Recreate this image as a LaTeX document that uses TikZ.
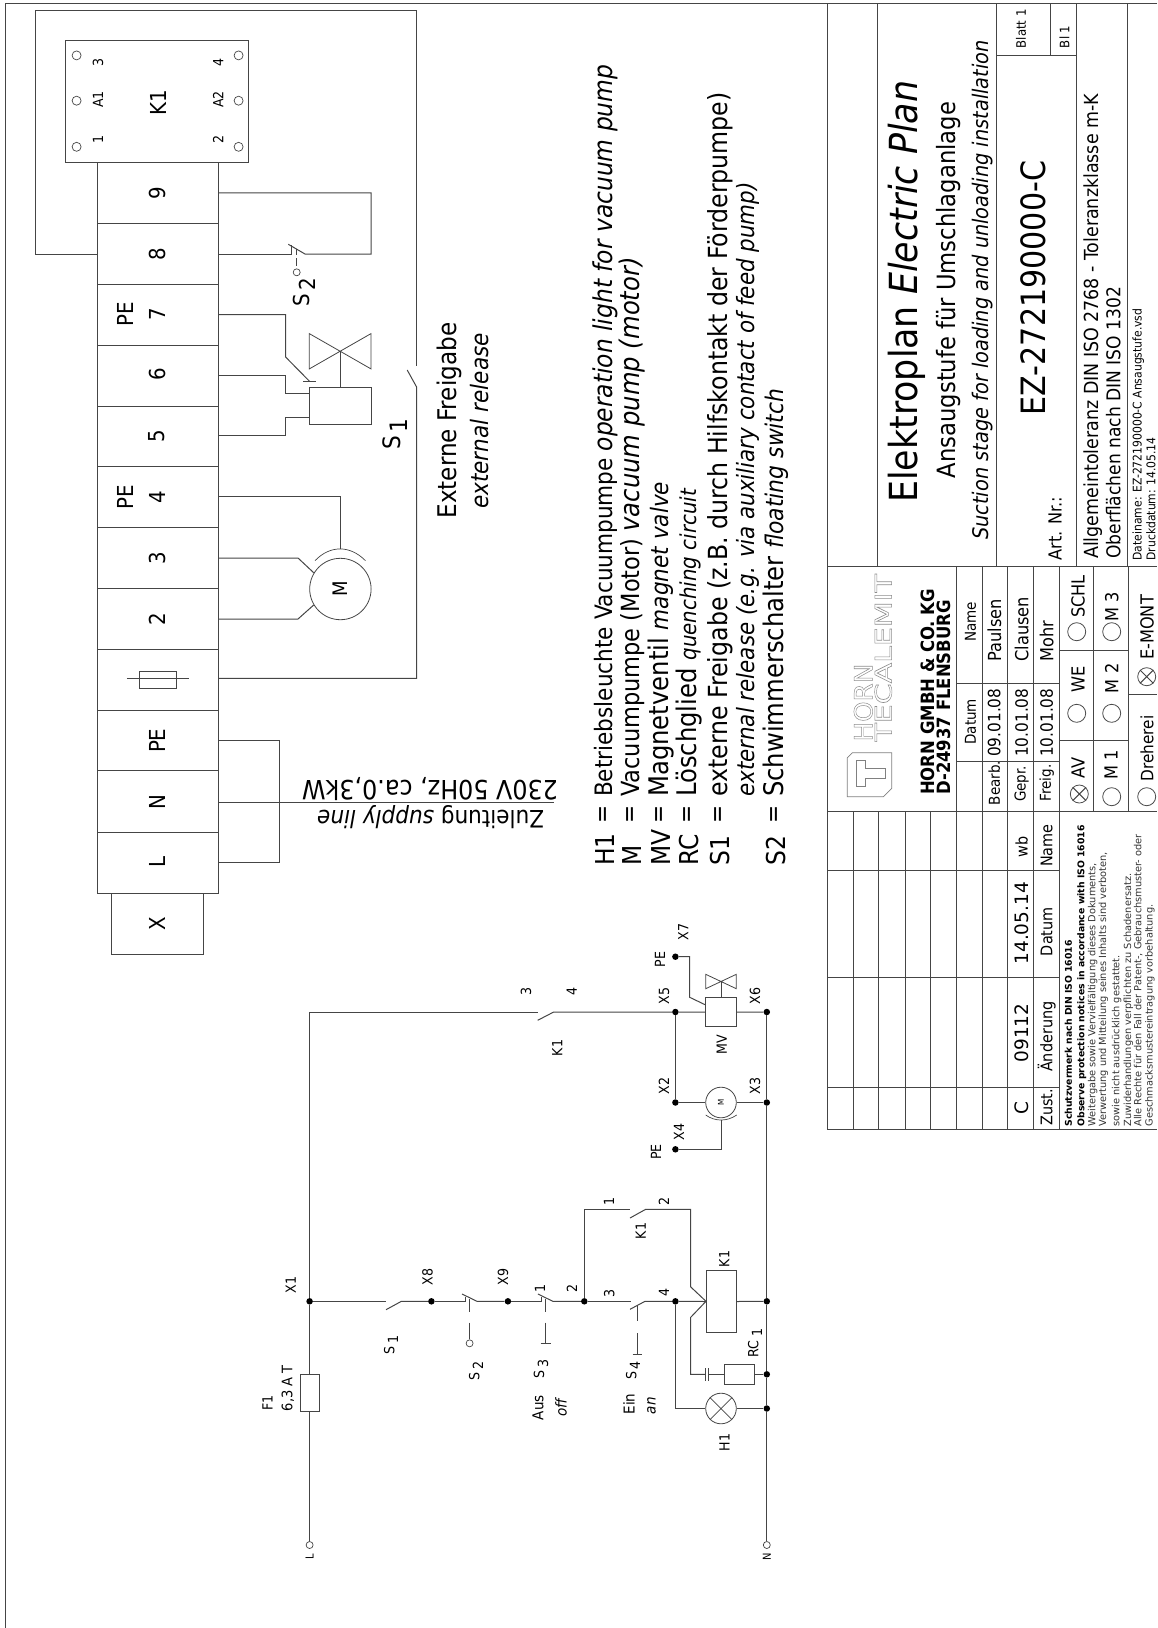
\documentclass[tikz,border=0pt]{standalone}
\usepackage{fontspec}
\setmainfont{DejaVu Sans Condensed}[ItalicFont={DejaVu Sans Condensed Oblique},BoldFont={DejaVu Sans Condensed Bold},BoldItalicFont={DejaVu Sans Condensed Bold Oblique}]
\newfontfamily\widefont{DejaVu Sans}
\definecolor{lc}{gray}{0.27}
\newcommand{\fs}[1]{\fontsize{#1}{#1}\selectfont}
\newcommand{\outl}[1]{\special{pdf:code q 1 Tr 0.45 w 0.55 G}#1\special{pdf:code Q}}
\newcommand{\lit}[2]{{\itshape\fs{#1}#2}}
\tikzset{
  wire/.style={draw=lc,line width=1pt},
  tline/.style={draw=lc,line width=1pt},
  jdot/.style={circle,fill=black,inner sep=0pt,minimum size=6.5pt},
  tcirc/.style={circle,draw=lc,line width=0.7pt,fill=white,inner sep=0pt,minimum size=7pt},
  pin/.style={circle,draw=lc,line width=0.7pt,inner sep=0pt,minimum size=9pt},
  opt/.style={circle,draw=black!70,line width=0.8pt,inner sep=0pt,minimum size=18pt},
  lab/.style={rotate=90,inner sep=0pt,font=\fs{14}},
  big/.style={rotate=90,inner sep=0pt,font=\fs{22}},
  leg/.style={rotate=90,inner sep=0pt,anchor=west,font=\fs{26}},
  legq/.style={rotate=90,inner sep=0pt,font=\fs{24}},
  tb/.style={rotate=90,inner sep=0pt,font=\fs{15}},
  tbl/.style={rotate=90,inner sep=0pt,font=\fs{18}},
  note/.style={rotate=90,inner sep=0pt,anchor=west,font=\widefont\fs{9.8},text=black!80},
  notb/.style={rotate=90,inner sep=0pt,anchor=west,font=\widefont\bfseries\fs{9.3}},
}
\begin{document}
\begin{tikzpicture}[x=1pt,y=-1pt]
\useasboundingbox (0,0) rectangle (1157,1628);
% sheet border
\draw[tline] (1157,3.6) -- (5.5,3.6) -- (5.5,1628);

%% ---------- wiring diagram: terminal strip ----------
\foreach \a/\b in {162.1/223.2,223.2/284.3,284.3/345,345/406,406/466.4,466.4/527,527/588.3,588.3/649,649/710,710/770,770/832.7,832.7/893}
  \draw[wire] (97,\a) rectangle (218.3,\b);
\draw[wire] (111.4,893) rectangle (203,954);
\draw[wire] (65.9,40.4) rectangle (248.6,162.1);
\foreach \x/\nx in {76.6/l,238.6/r}\foreach \y/\ny in {55.4/a,100.7/b,146.8/c}
  \node[pin] (p\nx\ny) at (\x,\y) {};
\node[lab] (k3) at (98,62.5) {3};
\node[lab] (kA1) at (98,99.6) {A1};
\node[lab] (k1) at (98,139.3) {1};
\node[lab] (k4) at (218.3,62.5) {4};
\node[lab] (kA2) at (218.3,99.6) {A2};
\node[lab] (k2) at (218.3,139.3) {2};
\node[big] (kK) at (158,102.5) {K1};
\node[big] (r9) at (157,192.9) {9};
\node[big] (r8) at (157,254) {8};
\node[big] (r7) at (157,314.6) {7};
\node[big] (e7) at (125.8,314.6) {PE};
\node[big] (r6) at (157,374.6) {6};
\node[big] (r5) at (157,436) {5};
\node[big] (r4) at (157,496.8) {4};
\node[big] (e4) at (125.8,496.8) {PE};
\node[big] (r3) at (157,558) {3};
\node[big] (r2) at (157,619) {2};
\node[big] (rE) at (157,740.7) {PE};
\node[big] (rN) at (157,802.3) {N};
\node[big] (rL) at (157,862.3) {L};
\node[big] (rX) at (157,923.3) {X};
% fuse in strip
\draw[wire] (139.5,671.3) rectangle (176,688.3);
\coordinate (fuA) at (126.9,678.3);\coordinate (fuB) at (188.7,678.3);
\draw[wire] (fuA) -- (fuB);
% terminal points
\coordinate (t9) at (218.3,192.9);\coordinate (t8) at (218.3,254);
\coordinate (t7) at (218.3,314.6);\coordinate (t6) at (218.3,375);
\coordinate (t5) at (218.3,435.7);\coordinate (t4) at (218.3,496.8);
\coordinate (t3) at (218.3,558);\coordinate (t2) at (218.3,619);
\coordinate (tF) at (218.3,678.3);\coordinate (tE) at (218.3,740.7);
\coordinate (tN) at (218.3,802.3);\coordinate (tL) at (218.3,862.7);
\coordinate (t8l) at (97,254);
% external release loop
\coordinate (s1a) at (416.6,366);\coordinate (s1b) at (416.6,387);
\draw[wire] (t8l) -- (35.5,254) -- (35.5,10) -- (416.6,10) -- (s1a);
\draw[wire] (407.2,370) -- (s1b) -- (416.6,678.3) -- (tF);
% S2 float switch
\coordinate (w2a) at (291.7,254);\coordinate (w2b) at (305,254);
\draw[wire] (t8) -- (w2a) -- (291.7,245);
\draw[wire] (288.3,244.3) -- (w2b) -- (371,254) -- (371,192.9) -- (t9);
\draw[wire] (296.7,249) -- (296.7,255) (296.7,258) -- (296.7,266);
\node[circle,draw=lc,line width=.7pt,inner sep=0pt,minimum size=7pt] (w2o) at (296.7,272.3) {};
\node[rotate=90,inner sep=0pt,font=\fs{22}] (w2l) at (304,292) {S\,\raisebox{-.5ex}{2}};
% valve
\node[draw=lc,line width=1pt,inner sep=0pt,minimum width=61.7pt,minimum height=37.9pt] (wmv) at (340.2,406) {};
\coordinate (mvA) at (309.3,393);\coordinate (mvB) at (309.3,417.9);
\draw[wire] (t6) -- (285.6,375) -- (285.6,393) -- (mvA);
\draw[wire] (t5) -- (285.6,435.7) -- (285.6,417.9) -- (mvB);
\coordinate (vtip) at (316.3,381.4);
\draw[wire] (t7) -- (285.6,314.6) -- (285.6,357) -- (309.6,381.4);
\draw[wire] (303.4,381.4) -- (vtip);
\draw[wire,line width=.8pt] (309.3,333.6) -- (371,368.9) -- (371,333.6) -- (309.3,368.9) -- cycle;
\draw[wire] (340.2,351.2) -- (wmv.north);
% motor
\node[circle,draw=lc,line width=.8pt,inner sep=0pt,minimum size=61.4pt,font=\fs{20},rotate=90] (wm) at (340.4,589) {M};
\draw[wire] (t4) -- (340.4,496.8) -- (340.4,549);
\draw[wire,line width=.7pt] (315,560.7) .. controls (330,545) and (350,545) .. (365.5,560.7);
\draw[wire] (t3) -- (298,558) -- (313.7,572.7);
\draw[wire] (t2) -- (298,619) -- (313.7,605);
% supply
\coordinate (sup) at (554,802.3);
\draw[wire] (tN) -- (sup);
\draw[wire] (tE) -- (279.3,740.7) -- (279.3,862.7) -- (tL);
\node[rotate=180,inner sep=0pt,font=\fs{26.5}] (supa) at (430,789) {230V 50Hz, ca.0,3kW};
\node[rotate=180,inner sep=0pt,font=\fs{24}] (supb) at (430.6,817.5) {Zuleitung \itshape supply line};
\node[rotate=90,inner sep=0pt,font=\fs{24}] (ws1) at (395,434) {S\,\raisebox{-.5ex}{1}};
\node[rotate=90,inner sep=0pt,font=\fs{25.7}] (ef1) at (449.5,420.6) {Externe Freigabe};
\node[rotate=90,inner sep=0pt,font=\itshape\fs{24}] (ef2) at (480,421) {external release};

%% ---------- legend ----------
\node[leg] (lg1a) at (605,866) {H1};
\node[leg] (lg2a) at (632.5,866) {M};
\node[leg] (lg3a) at (661,866) {MV};
\node[leg] (lg4a) at (689,866) {RC};
\node[leg] (lg5a) at (720,866) {S1};
\node[leg] (lg7a) at (776,866) {S2};
\foreach \x/\m in {605/q1,632.5/q2,661/q3,689/q4,720/q5,776/q7}
  \node[legq] (\m) at (\x,814) {=};
\node[leg,font=\fs{24}] (lg1) at (605,797) {Betriebsleuchte Vacuumpumpe \lit{26}{operation light for vacuum pump}};
\node[leg,font=\fs{25}] (lg2) at (632.5,797) {Vacuumpumpe (Motor) \lit{27}{vacuum pump (motor)}};
\node[leg,font=\fs{27}] (lg3) at (661,797) {Magnetventil \lit{24}{magnet valve}};
\node[leg,font=\fs{27}] (lg4) at (689,797) {Löschglied \lit{22}{quenching circuit}};
\node[leg,font=\fs{26.3}] (lg5) at (720,797) {externe Freigabe (z.B. durch Hilfskontakt der Förderpumpe)};
\node[leg,font=\itshape\fs{23.8}] (lg6) at (748,797) {external release (e.g. via auxiliary contact of feed pump)};
\node[leg,font=\fs{27}] (lg7) at (776,797) {Schwimmerschalter \lit{24.3}{floating switch}};

%% ---------- circuit diagram ----------
\node[jdot] (X1) at (309.6,1301.3) {};
\node[jdot] (X8) at (431.4,1301.3) {};
\node[jdot] (X9) at (507.9,1301.3) {};
\node[jdot] (J2) at (584.3,1301.3) {};
\node[jdot] (J4) at (675.4,1301.3) {};
\node[jdot] (X5) at (675.4,1012) {};
\node[jdot] (X2) at (675.4,1102.5) {};
\node[jdot] (PE1) at (675.4,956.7) {};
\node[jdot] (PE2) at (675.4,1149.3) {};
\node[jdot] (X6) at (766.8,1012) {};
\node[jdot] (X3) at (766.8,1102.5) {};
\node[jdot] (Nc) at (766.8,1301.3) {};
\node[jdot] (Nr) at (766.8,1374.3) {};
\node[jdot] (Nh) at (766.8,1408.5) {};
\node[tcirc] (Lt) at (309.6,1545) {};
\node[tcirc] (Nt) at (766.8,1545) {};
\node[lab,font=\fs{11}] (Ll) at (309.6,1557) {L};
\node[lab,font=\fs{11}] (Nl) at (766.8,1557) {N};
% main rails
\coordinate (Ltop) at (309.6,1012);
\coordinate (k34a) at (538,1012);\coordinate (k34b) at (553.7,1012);
\draw[wire] (Lt) -- (X1) -- (Ltop) -- (k34a);
\draw[wire] (537.7,1020.3) -- (k34b) -- (X5);
\draw[wire] (X6) -- (X3) -- (Nc) -- (Nr) -- (Nh) -- (Nt);
\draw[wire] (X5) -- (X2);
% fuse F1
\node[draw=lc,line width=1pt,fill=white,inner sep=0pt,minimum width=18.9pt,minimum height=37.4pt] (F1) at (309.8,1393) {};
\node[lab] (F1a) at (267.5,1402.7) {F1};
\node[lab,font=\fs{14.5}] (F1b) at (287.9,1388.3) {6,3 A T};
% control line
\coordinate (s1x) at (386.4,1301.3);\coordinate (s1y) at (401.4,1301.3);
\draw[wire] (X1) -- (s1x);
\draw[wire] (386,1309.7) -- (s1y) -- (X8);
\coordinate (s2x) at (465.7,1301.3);\coordinate (s2y) at (477,1301.3);
\draw[wire] (X8) -- (s2x) -- (465.7,1296.7);
\draw[wire] (462,1294) -- (s2y) -- (X9);
\coordinate (s3x) at (541.4,1301.3);\coordinate (s3y) at (552.9,1301.3);
\draw[wire] (X9) -- (s3x) -- (541.4,1296.7);
\draw[wire] (537.9,1294) -- (s3y) -- (J2);
\coordinate (s4x) at (630.7,1301.3);\coordinate (s4y) at (645,1301.3);
\draw[wire] (J2) -- (s4x);
\draw[wire] (630,1309.3) -- (s4y) -- (J4);
% actuators
\node[tcirc] (a2) at (469.6,1343.3) {};
\draw[wire] (469.6,1299) -- (469.6,1311.7) (469.6,1322.7) -- (a2);
\coordinate (a3) at (545.7,1343.3);
\draw[wire] (545.7,1299) -- (545.7,1311.7) (545.7,1322.7) -- (a3) (540.7,1343.3) -- (550.7,1343.3);
\coordinate (a4) at (637.1,1354);
\draw[wire] (637.1,1306) -- (637.1,1320.7) (637.1,1333.3) -- (a4) (632.5,1354) -- (641.8,1354);
% aux contact K1 1-2
\coordinate (k12a) at (630,1209.3);\coordinate (k12b) at (645.7,1209.3);
\draw[wire] (J2) -- (584.3,1209.3) -- (k12a);
\draw[wire] (630,1218) -- (k12b) -- (690.5,1209.3) -- (690.5,1286.7) -- (706,1301.3);
% coil
\node[draw=lc,line width=1pt,inner sep=0pt,minimum width=30pt,minimum height=61.6pt] (K1c) at (721,1301.5) {};
\draw[wire] (J4) -- (K1c.west);
\draw[wire] (K1c.east) -- (Nc);
\draw[wire] (706,1301.3) -- (690.7,1317.3) -- (690.7,1374.3) -- (705,1374.3);
% RC
\node[draw=lc,line width=1pt,inner sep=0pt,minimum width=30.7pt,minimum height=20pt] (RC) at (739.6,1374.3) {};
\draw[wire] (705,1368.3) -- (705,1380.7) (708.3,1368.3) -- (708.3,1380.7);
\draw[wire] (708.3,1374.3) -- (RC.west);
\draw[wire] (RC.east) -- (Nr);
% lamp
\node[circle,draw=lc,line width=.8pt,inner sep=0pt,minimum size=30.6pt] (H1) at (721,1408.5) {};
\draw[wire] (J4) -- (J4 |- H1) -- (H1.west);
\draw[wire] (H1.east) -- (Nh);
\draw[wire,line width=.7pt] (H1.45) -- (H1.225) (H1.135) -- (H1.315);
% magnet valve
\node[draw=lc,line width=1pt,inner sep=0pt,minimum width=30.6pt,minimum height=29.7pt] (MV) at (721,1012.1) {};
\draw[wire] (X5) -- (MV.west);
\draw[wire] (MV.east) -- (X6);
\draw[wire,line width=.8pt] (705.7,974.3) -- (736.3,988.7) -- (736.3,974.3) -- (705.7,988.7) -- cycle;
\draw[wire] (721,981.5) -- (MV.north);
\draw[wire] (PE1) -- (689.7,956.7) -- (689.7,997.3) -- (705.7,1005);
% small motor
\node[circle,draw=lc,line width=.8pt,inner sep=0pt,minimum size=30.6pt,font=\fs{8},rotate=90] (Mm) at (721,1102.5) {M};
\draw[wire] (X2) -- (Mm.north);
\draw[wire] (Mm.south) -- (X3);
\draw[wire,line width=.7pt] (705.7,1115) .. controls (715,1121.7) and (727,1121.7) .. (736.7,1115);
\draw[wire] (721,1120) -- (721,1149.3) -- (PE2);
% circuit labels
\node[lab] (lX1) at (290.7,1285) {X1};
\node[lab] (lX8) at (427.5,1276.7) {X8};
\node[lab] (lX9) at (503,1276.7) {X9};
\node[lab] (n1) at (540,1288.3) {1};
\node[lab] (n2) at (572,1288.3) {2};
\node[lab] (n3) at (609.3,1293) {3};
\node[lab] (n4) at (664,1292) {4};
\node[lab] (lS1) at (391,1345) {S\,\raisebox{-.5ex}{1}};
\node[lab] (lS2) at (476,1371) {S\,\raisebox{-.5ex}{2}};
\node[lab] (lS3) at (541,1369) {S\,\raisebox{-.5ex}{3}};
\node[lab] (lS4) at (633,1370.5) {S\,\raisebox{-.5ex}{4}};
\node[lab,font=\fs{15}] (lAus) at (537.9,1407.7) {Aus};
\node[lab,font=\itshape\fs{15}] (loff) at (561,1407.7) {off};
\node[lab,font=\fs{15}] (lEin) at (629,1404) {Ein};
\node[lab,font=\itshape\fs{15}] (lan) at (651.4,1405.7) {an};
\node[lab] (lK1) at (724.3,1259) {K1};
\node[lab] (lRC) at (755,1343) {RC\,\,\raisebox{-.5ex}{1}};
\node[lab] (lH1) at (724.6,1442.7) {H1};
\node[lab] (n5) at (526,991) {3};
\node[lab] (n6) at (571.7,991) {4};
\node[lab] (lK1a) at (557.3,1048) {K1};
\node[lab] (n7) at (609,1201.7) {1};
\node[lab] (n8) at (664,1201.7) {2};
\node[lab] (lK1b) at (640.7,1231) {K1};
\node[lab] (lX5) at (664,995.7) {X5};
\node[lab] (lX6) at (755,995.7) {X6};
\node[lab] (lX7) at (683.3,932) {X7};
\node[lab] (lX2) at (664,1086) {X2};
\node[lab] (lX3) at (755,1086) {X3};
\node[lab] (lX4) at (679,1131.7) {X4};
\node[lab] (lPE1) at (660,959.3) {PE};
\node[lab] (lPE2) at (656,1152) {PE};
\node[lab] (lMV) at (721.7,1045) {MV};

%% ---------- title block ----------
\draw[tline] (827.3,3.6) -- (827.3,1129.3) -- (1157,1129.3);
\draw[tline] (877.3,3.6) -- (877.3,566.4);
\draw[tline] (996.7,3.6) -- (996.7,566.4);
\draw[tline] (1076.7,3.6) -- (1076.7,566.4);
\draw[tline] (1127,3.6) -- (1127,566.4);
\draw[tline] (827.3,566.4) -- (1157,566.4);
\draw[tline] (996.7,55.5) -- (1076.7,55.5);
\draw[tline] (1050.7,3.6) -- (1050.7,55.5);
\draw[tline] (827.3,811) -- (1157,811);
% revision table rows
\foreach \x in {853,878,905,930}\draw[tline] (\x,811) -- (\x,1129.3);
\foreach \x in {956,982.3,1007.7,1033.3,1059}\draw[tline] (\x,566.4) -- (\x,1129.3);
\foreach \y in {870,977.3,1087.3}\draw[tline] (827.3,\y) -- (1059,\y);
\foreach \y in {683.3,761}\draw[tline] (956,\y) -- (1059,\y);
\draw[tline] (1093.3,566.4) -- (1093.3,811);
\draw[tline] (1128,566.4) -- (1128,811);
\foreach \y in {650,740.7}\draw[tline] (1059,\y) -- (1128,\y);
\draw[tline] (1128,694) -- (1157,694);
% title texts
\node[rotate=90,inner sep=0pt,anchor=west,font=\fs{38.7}] (t1) at (907.3,503) {Elektroplan \itshape Electric Plan};
\node[rotate=90,inner sep=0pt,font=\fs{25.2}] (t2t) at (948.3,290) {Ansaugstufe für Umschlaganlage};
\node[rotate=90,inner sep=0pt,font=\itshape\fs{21.5}] (t3t) at (982.3,290) {Suction stage for loading and unloading installation};
\node[rotate=90,inner sep=0pt,font=\fs{33.5}] (ezn) at (1033,288) {EZ-272190000-C};
\node[rotate=90,inner sep=0pt,anchor=west,font=\fs{18}] (art) at (1055,560.6) {Art. Nr.:};
\node[tb,font=\fs{13}] (bl1) at (1021,28.7) {Blatt 1};
\node[tb,font=\fs{13}] (bl2) at (1064.3,36.8) {Bl 1};
\node[rotate=90,inner sep=0pt,anchor=west,font=\fs{19.4}] (al1) at (1093.3,559) {Allgemeintoleranz DIN ISO 2768 - Toleranzklasse m-K};
\node[rotate=90,inner sep=0pt,anchor=west,font=\fs{19}] (al2) at (1113.3,559) {Oberflächen nach DIN ISO 1302};
\node[rotate=90,inner sep=0pt,anchor=west,font=\fs{12}] (da1) at (1138.3,560.6) {Dateiname: EZ-272190000-C Ansaugstufe.vsd};
\node[rotate=90,inner sep=0pt,anchor=west,font=\fs{12}] (da2) at (1151,560.6) {Druckdatum: 14.05.14};
% logo
\draw[draw=gray,line width=.7pt] (852.3,752.7) -- (891.7,752.7) -- (891.7,788.3) -- (883.3,796.7) -- (847.3,796.7) -- (847.3,757.7) -- cycle;
\draw[draw=gray,line width=.7pt] (856.7,760) -- (865,760) -- (865,768.3) -- (885,768.3) -- (885,778.3) -- (865,778.3) -- (865,786.7) -- (856.7,786.7) -- cycle;
\node[rotate=90,inner sep=0pt,anchor=west,font=\fs{25}] (lgH) at (863.3,741.7) {\scalebox{1.16}[1]{\outl{HORN}}};
\node[rotate=90,inner sep=0pt,anchor=west,font=\fs{23}] (lgT) at (883.3,741.7) {\scalebox{1.45}[1]{\outl{TECALEMIT}}};
\node[rotate=90,inner sep=0pt,anchor=west,font=\bfseries\fs{18.3}] (hg1) at (928.3,795) {HORN GMBH \& CO. KG};
\node[rotate=90,inner sep=0pt,anchor=west,font=\bfseries\fs{18.3}] (hg2) at (944,795) {D-24937 FLENSBURG};
% sign-off table
\node[tb] (hD) at (970.5,721.7) {Datum};
\node[tb] (hN) at (970.5,621.7) {Name};
\node[tb] (bA) at (994.3,783) {Bearb.};
\node[tb] (bB) at (1021.7,784) {Gepr.};
\node[tb] (bC) at (1046.7,783) {Freig.};
\node[tb,font=\fs{17}] (dA) at (994.3,722.7) {09.01.08};
\node[tb,font=\fs{17}] (dB) at (1021.7,722.7) {10.01.08};
\node[tb,font=\fs{17}] (dC) at (1046.7,722.7) {10.01.08};
\node[tbl,anchor=west] (nA) at (994.3,661.7) {Paulsen};
\node[tbl,anchor=west] (nB) at (1021.7,661.7) {Clausen};
\node[tbl,anchor=west] (nC) at (1046.7,661.7) {Mohr};
% check boxes
\node[opt] (oAV) at (1079.3,794) {};
\draw[tline] (oAV.45) -- (oAV.225) (oAV.135) -- (oAV.315);
\node[opt] (oWE) at (1076.7,713.3) {};
\node[opt] (oSC) at (1076.7,631.7) {};
\node[opt] (oM1) at (1111.7,796.7) {};
\node[opt] (oM2) at (1111.7,713.3) {};
\node[opt] (oM3) at (1111.7,631.7) {};
\node[opt] (oDr) at (1146.7,796.7) {};
\node[opt] (oEM) at (1146.7,676.7) {};
\draw[tline] (oEM.45) -- (oEM.225) (oEM.135) -- (oEM.315);
\node[tbl] (tAV) at (1078,768) {AV};
\node[tbl] (tWE) at (1078,679) {WE};
\node[tbl,anchor=west] (tSC) at (1078,618) {SCHL};
\node[tbl] (tM1) at (1111,765) {M 1};
\node[tbl] (tM2) at (1111.7,678.3) {M 2};
\node[tbl] (tM3) at (1111.7,606.7) {M 3};
\node[tbl,anchor=west,font=\fs{17}] (tDr) at (1147,781.7) {Dreherei};
\node[tbl,anchor=west] (tEM) at (1147,660) {E-MONT};
% revision entries
\node[tb,font=\widefont\fs{18.5}] (rC) at (1021.7,1108.3) {C};
\node[tb,font=\widefont\fs{18.5}] (rn) at (1021.7,1033) {09112};
\node[tb,font=\widefont\fs{18.5}] (rd) at (1021.7,923.3) {14.05.14};
\node[tb,font=\fs{16}] (rw) at (1021.7,846.7) {wb};
\node[tb,font=\fs{16}] (hZ) at (1046.7,1107.3) {Zust.};
\node[tb,font=\fs{16}] (hA) at (1046.7,1036.7) {Änderung};
\node[tb,font=\fs{16}] (hDa) at (1046.7,931.7) {Datum};
\node[tb,font=\fs{16}] (hNa) at (1046.7,845.7) {Name};
% protection notice
\node[notb] (pn1) at (1068.3,1126.7) {Schutzvermerk nach DIN ISO 16016};
\node[notb] (pn2) at (1081.7,1126.7) {Observe protection notices in accordance with ISO 16016};
\node[note] (pn3) at (1092.7,1126.7) {Weitergabe sowie Vervielfältigung dieses Dokuments,};
\node[note] (pn4) at (1103.3,1126.7) {Verwertung und Mitteilung seines Inhalts sind verboten,};
\node[note] (pn5) at (1116.7,1126.7) {sowie nicht ausdrücklich gestattet.};
\node[note] (pn6) at (1128.3,1126.7) {Zuwiderhandlungen verpflichten zu Schadenersatz.};
\node[note] (pn7) at (1138.3,1126.7) {Alle Rechte für den Fall der Patent-, Gebrauchsmuster- oder};
\node[note] (pn8) at (1150,1126.7) {Geschmacksmustereintragung vorbehaltung.};
\end{tikzpicture}
\end{document}
